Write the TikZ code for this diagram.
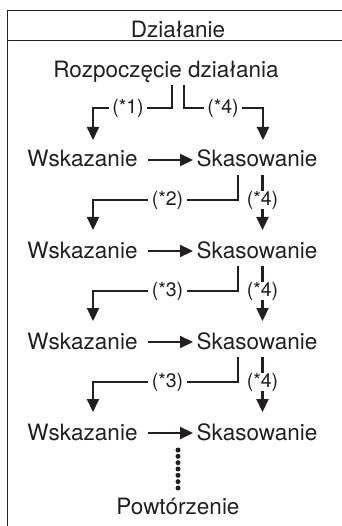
\documentclass[tikz,border=0pt]{standalone}
\usepackage{fontspec}
\setmainfont{TeX Gyre Heros}
\usetikzlibrary{arrows.meta}
\definecolor{ink}{HTML}{231F20}
\begin{document}
\begin{tikzpicture}[x=1pt,y={(0pt,-1pt)},
  txt/.style={anchor=base, inner sep=0pt, font=\fontsize{22.5}{26}\selectfont, text=ink},
  lab/.style={fill=white, inner xsep=3.5pt, inner ysep=0pt, font=\fontsize{19.5}{23}\selectfont, text=ink},
  conn/.style={line width=2.2pt, draw=ink},
  arr/.style={conn, -{Triangle[width=12pt,length=13pt]}},
  frame/.style={line width=1.4pt, draw=ink},
  dotsty/.style={draw=ink, line width=5pt, line cap=round, dash pattern=on 0pt off 6.33pt}]
\useasboundingbox (0,0) rectangle (341,526);
% frame
\draw[frame] (7.5,527) -- (7.5,10.5) -- (342,10.5);
\draw[frame] (7.5,40.5) -- (342,40.5);
% texts
\node[txt] (hd) at (178,37.5) {Działanie};
\node[txt] (r0) at (166,78) {Rozpoczęcie działania};
\node[txt] (w1) at (82.5,167) {Wskazanie};
\node[txt] (s1) at (257,167) {Skasowanie};
\node[txt] (w2) at (82.5,258) {Wskazanie};
\node[txt] (s2) at (257,258) {Skasowanie};
\node[txt] (w3) at (82.5,349) {Wskazanie};
\node[txt] (s3) at (257,349) {Skasowanie};
\node[txt] (w4) at (82.5,440) {Wskazanie};
\node[txt] (s4) at (257,440) {Skasowanie};
\node[txt] (rep) at (178,514) {Powtórzenie};
% start connectors
\draw[arr] ([shift={(6pt,-7pt)}]r0.base) -- ++(0,23) -| ([shift={(10.5pt,27pt)}]w1.base);
\draw[arr] ([shift={(18pt,-7pt)}]r0.base) -- ++(0,23) -| ([shift={(6pt,27pt)}]s1.base);
\node[lab] (l1) at (128,108) {(*1)};
\node[lab] (l4a) at (223,108) {(*4)};
% horizontal arrows
\foreach \w/\s in {w1/s1,w2/s2,w3/s3,w4/s4}{
  \draw[arr] ([shift={(65.5pt,7pt)}]\w.base) -- ([shift={(-64pt,7pt)}]\s.base);
}
% row connectors
\foreach \s/\w/\t/\y/\n in {s1/w2/s2/200/2,s2/w3/s3/291/3,s3/w4/s4/382/3}{
  \draw[arr] ([shift={(-19pt,-8pt)}]\s.base) -- ++(0,25) -| ([shift={(10.5pt,28pt)}]\w.base);
  \draw[arr] ([shift={(5.5pt,-8pt)}]\s.base) -- ([shift={(5.5pt,28pt)}]\t.base);
  \node[lab] at (167.5,\y) {(*\n)};
  \node[lab] at (262.5,\y) {(*4)};
}
% repetition dots
\draw[dotsty] ([yshift=64pt]rep.base) -- ([yshift=26pt]rep.base);
\end{tikzpicture}
\end{document}
